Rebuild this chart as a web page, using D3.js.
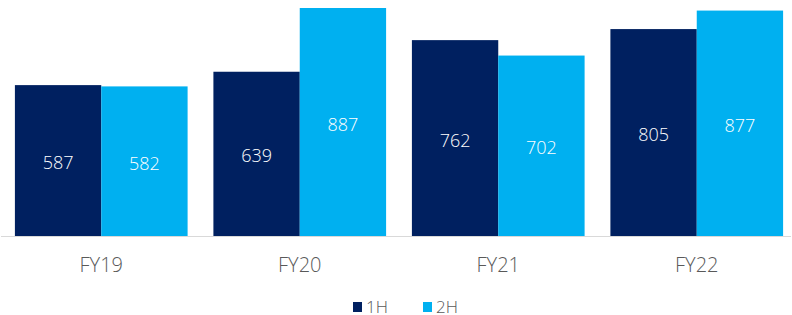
<!DOCTYPE html>
<html>
<head>
<meta charset="utf-8">
<script src="https://cdn.jsdelivr.net/npm/d3@7"></script>
<style>
  body { margin: 0; background: #fff; }
  text { font-family: 'Open Sans', sans-serif; font-weight: 300; }
</style>
</head>
<body>
<div id="chart"></div>
<script>
const categories = ['FY19', 'FY20', 'FY21', 'FY22']
const series = ['1H', '2H']
const values1H = [587, 639, 762, 805]
const values2H = [582, 887, 702, 877]
const colors = ['#002060', '#00b0f0']

const width = 792
const height = 315
const baseline = 236

const svg = d3
  .select('#chart')
  .append('svg')
  .attr('width', width)
  .attr('height', height)

const x = d3.scaleBand().domain(categories).range([2, 796]).paddingInner(0.13).paddingOuter(0.065)
const xs = d3.scaleBand().domain(series).range([0, x.bandwidth()])
const y = d3.scaleLinear().domain([0, 887]).range([baseline, 8])

const rows = categories.map((c, i) => ({ cat: c, vals: [values1H[i], values2H[i]] }))

const groups = svg
  .selectAll('g.grp')
  .data(rows)
  .enter()
  .append('g')
  .attr('class', 'grp')
  .attr('transform', d => `translate(${x(d.cat)},0)`)

groups.each(function(d) {
  const g = d3.select(this)
  d.vals.forEach((v, j) => {
    g.append('rect')
      .attr('x', xs(series[j]))
      .attr('width', xs.bandwidth())
      .attr('y', y(v))
      .attr('height', baseline - y(v))
      .attr('fill', colors[j])
    g.append('text')
      .text(v)
      .attr('x', xs(series[j]) + xs.bandwidth() / 2)
      .attr('y', (y(v) + baseline) / 2 + 8.5)
      .attr('text-anchor', 'middle')
      .attr('font-size', 18)
      .attr('fill', '#fff')
  })
})

// baseline
svg.append('line')
  .attr('x1', 1).attr('x2', 791)
  .attr('y1', baseline + 0.5).attr('y2', baseline + 0.5)
  .attr('stroke', '#d9d9d9')
  .attr('stroke-width', 1)

svg.selectAll('text.cat')
  .data(categories)
  .enter()
  .append('text')
  .attr('class', 'cat')
  .text(d => d)
  .attr('x', d => x(d) + x.bandwidth() / 2)
  .attr('y', 272)
  .attr('text-anchor', 'middle')
  .attr('font-size', 20)
  .attr('fill', '#595959')

const legend = svg.selectAll('g.leg')
  .data(series)
  .enter()
  .append('g')
  .attr('class', 'leg')
  .attr('transform', (d, i) => `translate(${353 + i * 70},0)`)

legend.append('rect')
  .attr('x', 0).attr('y', 302)
  .attr('width', 9).attr('height', 10)
  .attr('fill', (d, i) => colors[i])

legend.append('text')
  .text(d => d)
  .attr('x', 13)
  .attr('y', 313)
  .attr('font-size', 17)
  .attr('fill', '#595959')
</script>
</body>
</html>
